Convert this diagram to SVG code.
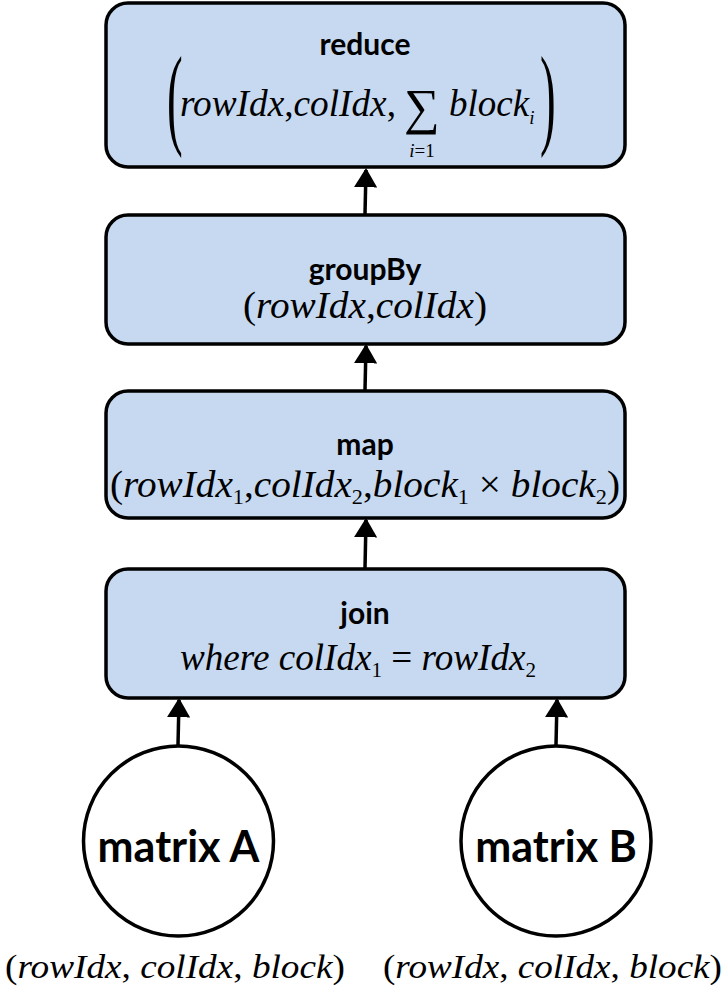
<svg xmlns="http://www.w3.org/2000/svg" width="727" height="994" viewBox="0 0 727 994">
<style>
.box{fill:#c6d9f0;stroke:#000;stroke-width:3.5}
.circ{fill:#fff;stroke:#000;stroke-width:3.5}
.hd{font-family:Lato,'Open Sans',sans-serif;font-weight:bold;font-size:30px;fill:#000;text-anchor:middle}
.big{font-family:Lato,'Open Sans',sans-serif;font-weight:bold;font-size:43px;fill:#000;text-anchor:middle}
.m{font-family:'Liberation Serif',serif;font-style:italic;fill:#000}
.up{font-style:normal}
.edge{stroke:#000;stroke-width:3.5;fill:none}
</style>
<defs>
<marker id="ah" viewBox="0 0 10 12" refX="9" refY="6" markerWidth="5.5" markerHeight="6.6" markerUnits="strokeWidth" orient="auto">
<path d="M0,0 L10,6 L0,12 z" fill="#000"/>
</marker>
</defs>
<g id="connectors">
<line class="edge" x1="365" y1="214" x2="366" y2="170" marker-end="url(#ah)"/>
<line class="edge" x1="365" y1="390" x2="366" y2="346" marker-end="url(#ah)"/>
<line class="edge" x1="365" y1="568" x2="366" y2="520" marker-end="url(#ah)"/>
<line class="edge" x1="178" y1="745" x2="179" y2="700" marker-end="url(#ah)"/>
<line class="edge" x1="556" y1="745" x2="557" y2="700" marker-end="url(#ah)"/>
</g>
<g id="reduce">
<rect class="box" x="106" y="3" width="519" height="164" rx="22"/>
<text class="hd" x="365" y="55">reduce</text>
<text class="m up" style="font-size:112px" transform="translate(167,134) scale(0.42,1)">(</text>
<text class="m" style="font-size:37px" x="180" y="116" textLength="216" lengthAdjust="spacingAndGlyphs">rowIdx<tspan class="up">,</tspan>colIdx<tspan class="up">,</tspan></text>
<text class="m up" style="font-size:50px" x="404" y="124">∑</text>
<text class="m" style="font-size:19px" x="422" y="157" text-anchor="middle">i<tspan class="up">=1</tspan></text>
<text class="m" style="font-size:37px" x="449" y="116">block<tspan style="font-size:19px" dy="8">i</tspan></text>
<text class="m up" style="font-size:112px" transform="translate(540,134) scale(0.42,1)">)</text>
</g>
<g id="groupBy">
<rect class="box" x="106" y="215" width="519" height="129" rx="22"/>
<text class="hd" x="365" y="280">groupBy</text>
<text class="m" style="font-size:37px" x="365" y="318" text-anchor="middle" textLength="244" lengthAdjust="spacingAndGlyphs"><tspan class="up">(</tspan>rowIdx<tspan class="up">,</tspan>colIdx<tspan class="up">)</tspan></text>
</g>
<g id="map">
<rect class="box" x="106" y="391" width="519" height="127" rx="22"/>
<text class="hd" x="365" y="455">map</text>
<text class="m" style="font-size:37px" x="110" y="497" textLength="510" lengthAdjust="spacingAndGlyphs"><tspan class="up">(</tspan>rowIdx<tspan class="up" style="font-size:21px" dy="7">1</tspan><tspan class="up" dy="-7">,</tspan>colIdx<tspan class="up" style="font-size:21px" dy="7">2</tspan><tspan class="up" dy="-7">,</tspan>block<tspan class="up" style="font-size:21px" dy="7">1</tspan><tspan class="up" dy="-7"> × </tspan>block<tspan class="up" style="font-size:21px" dy="7">2</tspan><tspan class="up" dy="-7">)</tspan></text>
</g>
<g id="join">
<rect class="box" x="106" y="569" width="519" height="129" rx="22"/>
<text class="hd" x="365" y="624">join</text>
<text class="m" style="font-size:37px" x="180" y="670" textLength="356" lengthAdjust="spacingAndGlyphs">where colIdx<tspan class="up" style="font-size:21px" dy="7">1</tspan><tspan class="up" dy="-7"> = </tspan>rowIdx<tspan class="up" style="font-size:21px" dy="7">2</tspan></text>
</g>
<g id="matrixA">
<circle class="circ" cx="178.5" cy="841" r="95"/>
<text class="big" x="178.5" y="862">matrix A</text>
<text class="m" style="font-size:33px" x="5" y="978" textLength="340" lengthAdjust="spacingAndGlyphs"><tspan class="up">(</tspan>rowIdx<tspan class="up">, </tspan>colIdx<tspan class="up">, </tspan>block<tspan class="up">)</tspan></text>
</g>
<g id="matrixB">
<circle class="circ" cx="556" cy="841" r="95"/>
<text class="big" x="556" y="862">matrix B</text>
<text class="m" style="font-size:33px" x="383" y="978" textLength="339" lengthAdjust="spacingAndGlyphs"><tspan class="up">(</tspan>rowIdx<tspan class="up">, </tspan>colIdx<tspan class="up">, </tspan>block<tspan class="up">)</tspan></text>
</g>
</svg>
